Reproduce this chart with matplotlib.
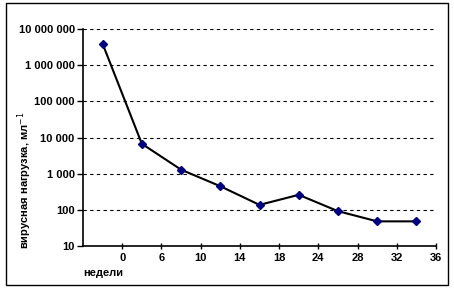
import matplotlib
matplotlib.use("Agg")
import matplotlib.pyplot as plt
from matplotlib.patches import Rectangle
from matplotlib.ticker import FixedLocator, NullLocator

weeks_labels = ["0", "6", "10", "14", "18", "24", "28", "32", "36"]
viral_load = [3900000, 6700, 1290, 450, 137, 260, 92, 48, 48]
y_ticks = [10, 100, 1000, 10000, 100000, 1000000, 10000000]
y_tick_labels = ["10", "100", "1 000", "10 000", "100 000", "1 000 000", "10 000 000"]

plt.rcParams['font.family'] = ['Liberation Sans', 'DejaVu Sans']

W, H = 454, 290
fig = plt.figure(figsize=(W / 100, H / 100), dpi=100)
ax = fig.add_axes([83 / W, 1 - 246 / H, (436 - 83) / W, (246 - 29) / H])

n = len(viral_load)
xs = [i + 0.5 for i in range(n)]
ax.plot(xs, viral_load, color='black', lw=1.5, marker='D', markersize=4.5,
        markerfacecolor='#000080', markeredgecolor='#000080', zorder=3)

ax.set_yscale('log')
ax.set_ylim(10, 10000000)
ax.set_xlim(0, n)
ax.yaxis.set_major_locator(FixedLocator(y_ticks))
ax.yaxis.set_minor_locator(NullLocator())
ax.set_yticklabels(y_tick_labels, fontsize=8, fontweight='bold')
ax.set_xticks([i + 1 for i in range(n)])
ax.set_xticklabels(weeks_labels, fontsize=8, fontweight='bold')
ax.tick_params(axis='y', direction='out', length=4, width=1, pad=2)
ax.tick_params(axis='x', direction='inout', length=4, width=1, pad=3)

for v in y_ticks[1:]:
    ax.axhline(v, color='black', lw=0.8, ls=(0, (3, 3)), zorder=1)

for s in ['top', 'right']:
    ax.spines[s].set_visible(False)
for s in ['left', 'bottom']:
    ax.spines[s].set_linewidth(1.2)

fig.text(25 / W, 1 - 180 / H, 'вирусная нагрузка, мл$^{-1}$', rotation=90,
         ha='center', va='center', fontsize=8, fontweight='bold')
fig.text(83 / W, 1 - 273 / H, 'недели', ha='left', va='center',
         fontsize=8, fontweight='bold')

fig.patches.append(Rectangle((6 / W, 1 - 285 / H), (448 - 6) / W, (285 - 3) / H,
                             transform=fig.transFigure, fill=False,
                             edgecolor='black', lw=1))

fig.savefig('out.png', dpi=100)
